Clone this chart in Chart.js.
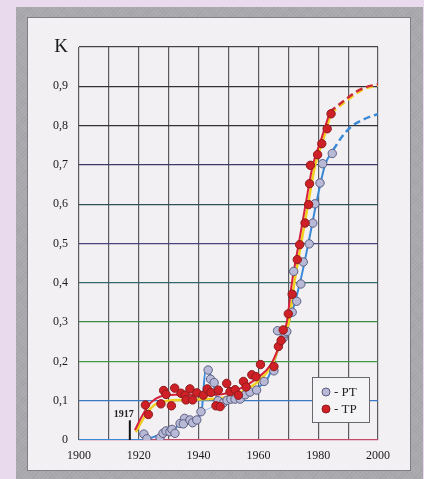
<!DOCTYPE html>
<html>
<head>
<meta charset="utf-8">
<script src="https://cdn.jsdelivr.net/npm/chart.js@4.4.1/dist/chart.umd.min.js"></script>
<style>
    html, body { margin: 0; padding: 0; }
    body { width: 424px; height: 479px; background: #e9dbed; position: relative; overflow: hidden; }
    .frame {
        position: absolute; left: 16px; top: 7px; width: 407px; height: 480px;
        background: #a9a8ac;
        background-image: repeating-linear-gradient(45deg, rgba(255,255,255,0.06) 0 1px, transparent 1px 2px),
                          repeating-linear-gradient(-45deg, rgba(0,0,0,0.04) 0 1px, transparent 1px 3px);
    }
    .panel {
        position: absolute; left: 27px; top: 17px; width: 384px; height: 454px;
        background: #f2f0f3; border: 1px solid #807e84; box-sizing: border-box;
    }
    #chart { position: absolute; left: 0; top: 0; }
</style>
</head>
<body>
<div class="frame"></div>
<div class="panel"></div>
<canvas id="chart" width="424" height="479"></canvas>
<script>
// Точки РТ (голубые)
const ptYears = [1921.7, 1922.7, 1927.1, 1928.1, 1929.1, 1930.4, 1931.1, 1932.1, 1933.8, 1935.3,
    1934.9, 1937.1, 1938.0, 1939.4, 1940.8, 1943.2, 1944.0, 1945.2, 1946.5, 1948.2,
    1949.5, 1950.8, 1952.2, 1953.9, 1955.6, 1957.2, 1959.4, 1961.9, 1965.2, 1966.4,
    1968.3, 1968.9, 1969.5, 1971.3, 1971.8, 1972.8, 1974.2, 1975.0, 1977.0, 1978.2,
    1978.9, 1980.6, 1981.5, 1984.7];
const ptValues = [0.015, 0.003, 0.006, 0.017, 0.023, 0.021, 0.027, 0.017, 0.042, 0.055,
    0.041, 0.051, 0.044, 0.051, 0.072, 0.178, 0.155, 0.146, 0.100, 0.094,
    0.101, 0.104, 0.104, 0.104, 0.115, 0.122, 0.127, 0.149, 0.176, 0.278,
    0.259, 0.272, 0.276, 0.325, 0.429, 0.353, 0.397, 0.453, 0.499, 0.552,
    0.601, 0.654, 0.703, 0.729];

// Точки ТР (красные)
const tpYears = [1922.2, 1923.2, 1927.4, 1928.3, 1929.1, 1930.9, 1932.0, 1934.1, 1935.5, 1935.8,
    1937.1, 1938.0, 1939.4, 1941.6, 1942.9, 1944.1, 1945.8, 1947.2, 1946.6, 1949.4,
    1950.5, 1952.2, 1953.3, 1955.0, 1955.9, 1957.8, 1959.2, 1960.7, 1965.2, 1966.7,
    1967.6, 1968.3, 1970.0, 1971.3, 1973.0, 1973.8, 1975.6, 1976.8, 1977.1, 1977.4,
    1979.8, 1981.2, 1983.0, 1984.3];
const tpValues = [0.089, 0.065, 0.092, 0.126, 0.116, 0.087, 0.132, 0.119, 0.114, 0.102,
    0.130, 0.102, 0.120, 0.114, 0.130, 0.121, 0.087, 0.085, 0.127, 0.144,
    0.123, 0.128, 0.114, 0.149, 0.135, 0.166, 0.161, 0.192, 0.187, 0.238,
    0.253, 0.280, 0.321, 0.371, 0.459, 0.497, 0.552, 0.599, 0.652, 0.699,
    0.726, 0.754, 0.792, 0.830];

// Аппроксимирующие кривые
const redYears = [1918.7, 1921, 1924, 1927, 1932, 1940, 1946, 1951, 1955, 1960, 1964, 1967, 1969.5, 1971.2, 1973.5, 1975.8, 1978.2, 1981, 1983.9];
const redValues = [0.025, 0.06, 0.095, 0.11, 0.115, 0.115, 0.115, 0.122, 0.135, 0.16, 0.19, 0.24, 0.30, 0.40, 0.50, 0.60, 0.70, 0.765, 0.835];
const redDashYears = [1983.9, 1988.4, 1992.9, 1996, 2000];
const redDashValues = [0.835, 0.862, 0.887, 0.898, 0.905];

const yellowYears = [1919, 1922, 1925, 1930, 1940, 1950, 1955, 1960, 1965, 1968, 1970.2, 1972, 1974.3, 1976.6, 1979, 1981.7, 1984.2];
const yellowValues = [0.02, 0.06, 0.088, 0.10, 0.103, 0.11, 0.125, 0.15, 0.198, 0.265, 0.30, 0.40, 0.50, 0.60, 0.70, 0.765, 0.83];
const yellowDashYears = [1984.2, 1988.6, 1993, 1996, 2000];
const yellowDashValues = [0.83, 0.858, 0.883, 0.895, 0.902];

const blueYears = [1900, 1922, 1925, 1930, 1933, 1936, 1940, 1941, 1942.3, 1943.2, 1945, 1946.5, 1948, 1952, 1956, 1960, 1963, 1965.3, 1967.5, 1970.2, 1973.9, 1976.7, 1979.3, 1982.3, 1985];
const blueValues = [0, 0, 0.008, 0.02, 0.035, 0.048, 0.06, 0.072, 0.175, 0.176, 0.14, 0.10, 0.10, 0.105, 0.115, 0.135, 0.155, 0.20, 0.25, 0.30, 0.40, 0.50, 0.60, 0.70, 0.738];
const blueDashYears = [1985, 1988, 1991, 1995, 2000];
const blueDashValues = [0.738, 0.772, 0.797, 0.815, 0.83];

const blueThinYears = [1940.8, 1946, 1950];
const blueThinValues = [0.072, 0.088, 0.10];

// Оси
const yTickValues = [0, 0.1, 0.2, 0.3, 0.4, 0.5, 0.6, 0.7, 0.8, 0.9, 1.0];
const yTickLabels = ['0', '0,1', '0,2', '0,3', '0,4', '0,5', '0,6', '0,7', '0,8', '0,9', 'K'];
const xLabelYears = [1900, 1920, 1940, 1960, 1980, 2000];

const markYear = 1917;
const markTop = 0.05;
const legendLabels = ['- PT', '- TP'];

const hGridColors = ['#c24a6a', '#3a78c4', '#3f9a48', '#3b8a48', '#2f6a66', '#4a4478', '#2f5258', '#3d3b66', '#333336', '#333336', '#444448'];

function pts(xs, ys) {
    return xs.map((x, i) => ({ x: x, y: ys[i] }));
}

function lineSet(xs, ys, color, width, dash) {
    return {
        type: 'line',
        data: pts(xs, ys),
        borderColor: color,
        borderWidth: width,
        borderDash: dash || [],
        pointRadius: 0,
        fill: false,
        cubicInterpolationMode: 'monotone'
    };
}

const serif = '"Liberation Serif", "DejaVu Serif", serif';

// Легенда и отметка 1917 года
const extrasPlugin = {
    id: 'extras',
    afterDatasetsDraw(chart) {
        const ctx = chart.ctx;
        const xs = chart.scales.x, ys = chart.scales.y;
        ctx.save();
        // отметка 1917
        const mx = xs.getPixelForValue(markYear);
        ctx.strokeStyle = '#111';
        ctx.lineWidth = 2;
        ctx.beginPath();
        ctx.moveTo(mx, ys.getPixelForValue(0));
        ctx.lineTo(mx, ys.getPixelForValue(markTop));
        ctx.stroke();
        ctx.fillStyle = '#222';
        ctx.font = 'bold 10px ' + serif;
        ctx.textAlign = 'center';
        ctx.textBaseline = 'bottom';
        ctx.fillText(String(markYear), mx - 6, ys.getPixelForValue(markTop) - 0.5);

        // легенда
        const bx = 312, by = 377, bw = 57, bh = 45;
        ctx.fillStyle = '#f4f3f5';
        ctx.fillRect(bx, by, bw, bh);
        ctx.strokeStyle = '#6a686e';
        ctx.lineWidth = 1;
        ctx.strokeRect(bx + 0.5, by + 0.5, bw, bh);
        const styles = [
            { bg: '#b7b9d6', bd: '#5b5e80' },
            { bg: '#cf2027', bd: '#8c1a1a' }
        ];
        ctx.font = '13px ' + serif;
        ctx.textAlign = 'left';
        ctx.textBaseline = 'middle';
        legendLabels.forEach((lab, i) => {
            const cy = by + 15 + i * 17;
            ctx.beginPath();
            ctx.arc(bx + 14, cy, 4, 0, Math.PI * 2);
            ctx.fillStyle = styles[i].bg;
            ctx.fill();
            ctx.strokeStyle = styles[i].bd;
            ctx.stroke();
            ctx.fillStyle = '#222';
            ctx.fillText(lab, bx + 22, cy + 1);
        });
        ctx.restore();
    }
};

new Chart(document.getElementById('chart'), {
    type: 'scatter',
    data: {
        datasets: [
            {
                label: 'TP',
                data: pts(tpYears, tpValues),
                backgroundColor: '#cf2027',
                borderColor: '#8c1a1a',
                borderWidth: 1,
                pointRadius: 4.2
            },
            {
                label: 'PT',
                data: pts(ptYears, ptValues),
                backgroundColor: '#b7b9d6',
                borderColor: '#5b5e80',
                borderWidth: 1,
                pointRadius: 4.2
            },
            lineSet(redYears, redValues, '#d8203c', 2),
            lineSet(redDashYears, redDashValues, '#cc2a3a', 2.5, [7, 4]),
            lineSet(yellowYears, yellowValues, '#f2cf1c', 2.5),
            lineSet(yellowDashYears, yellowDashValues, '#f2cf1c', 2.5, [7, 4]),
            lineSet(blueYears, blueValues, '#3a8ad8', 2),
            lineSet(blueDashYears, blueDashValues, '#3a8ad8', 2.5, [7, 4]),
            lineSet(blueThinYears, blueThinValues, '#9cc4ea', 1)
        ]
    },
    options: {
        responsive: false,
        animation: false,
        events: [],
        layout: { padding: { left: 0, right: 46, top: 47, bottom: 0 } },
        plugins: {
            legend: { display: false },
            tooltip: { enabled: false }
        },
        scales: {
            x: {
                type: 'linear',
                min: 1900,
                max: 2000,
                afterFit: function (scale) { scale.height = 39; },
                border: { display: false },
                grid: { color: '#5a5a5f', lineWidth: 1.2, drawTicks: false },
                ticks: {
                    stepSize: 10,
                    autoSkip: false,
                    maxRotation: 0,
                    padding: 9,
                    color: '#1a1a1a',
                    font: { family: serif, size: 12 },
                    callback: function (value) {
                        return xLabelYears.includes(value) ? String(value) : '';
                    }
                }
            },
            y: {
                min: 0,
                max: 1,
                afterFit: function (scale) { scale.width = 79; },
                border: { display: false },
                grid: {
                    drawTicks: false,
                    lineWidth: 1.2,
                    color: function (context) {
                        const i = yTickValues.indexOf(Math.round(context.tick.value * 10) / 10);
                        return i >= 0 ? hGridColors[i] : '#444';
                    }
                },
                ticks: {
                    stepSize: 0.1,
                    padding: 11,
                    color: '#1a1a1a',
                    font: function (context) {
                        const v = context.tick ? Math.round(context.tick.value * 10) / 10 : 0;
                        return v === 1 ? { family: serif, size: 19 } : { family: serif, size: 12 };
                    },
                    callback: function (value) {
                        const i = yTickValues.indexOf(Math.round(value * 10) / 10);
                        return i >= 0 ? yTickLabels[i] : '';
                    }
                }
            }
        }
    },
    plugins: [extrasPlugin]
});
</script>
</body>
</html>
